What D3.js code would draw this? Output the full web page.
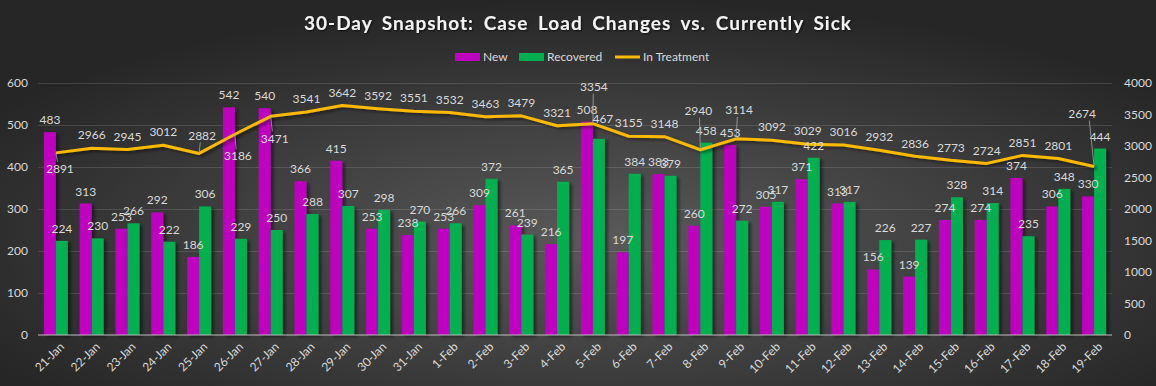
<!DOCTYPE html>
<html>
<head>
<meta charset="utf-8">
<script src="https://cdn.jsdelivr.net/npm/d3@7"></script>
<style>
    html, body { margin: 0; padding: 0; background: #2a2a2a; }
    svg { display: block; font-family: Lato, "Open Sans", sans-serif; }
</style>
</head>
<body>
<svg id="chart"></svg>
<script>
const dates = ["21-Jan", "22-Jan", "23-Jan", "24-Jan", "25-Jan", "26-Jan", "27-Jan", "28-Jan", "29-Jan", "30-Jan",
    "31-Jan", "1-Feb", "2-Feb", "3-Feb", "4-Feb", "5-Feb", "6-Feb", "7-Feb", "8-Feb", "9-Feb",
    "10-Feb", "11-Feb", "12-Feb", "13-Feb", "14-Feb", "15-Feb", "16-Feb", "17-Feb", "18-Feb", "19-Feb"];
const newCases = [483, 313, 253, 292, 186, 542, 540, 366, 415, 253, 238, 253, 309, 261, 216,
    508, 197, 383, 260, 453, 305, 371, 313, 156, 139, 274, 274, 374, 306, 330];
const recovered = [224, 230, 266, 222, 306, 229, 250, 288, 307, 298, 270, 266, 372, 239, 365,
    467, 384, 379, 458, 272, 317, 422, 317, 226, 227, 328, 314, 235, 348, 444];
const inTreatment = [2891, 2966, 2945, 3012, 2882, 3186, 3471, 3541, 3642, 3592, 3551, 3532, 3463, 3479, 3321,
    3354, 3155, 3148, 2940, 3114, 3092, 3029, 3016, 2932, 2836, 2773, 2724, 2851, 2801, 2674];
const leftTicks = [0, 100, 200, 300, 400, 500, 600];
const rightTicks = [0, 500, 1000, 1500, 2000, 2500, 3000, 3500, 4000];

const width = 1156, height = 386;
const margin = { top: 83, right: 44, bottom: 51, left: 38 };
const innerW = width - margin.left - margin.right;
const innerH = height - margin.top - margin.bottom;

const colors = { New: "#c000c0", Recovered: "#00b050", line: "#ffb900", text: "#d9d9d9" };
const labelSize = 12;

// labels that were dragged away from their point in the original (dx, dy from point)
const lineLabelMoves = { 0: [4, 16], 4: [3, -18], 5: [3, 22], 6: [4, 22], 15: [1, -37], 18: [-2, -39], 19: [3, -29], 29: [-12, -53] };
const barLabelMoves = { "Recovered-15": [4, -8] };

const svg = d3.select("#chart")
    .attr("width", width)
    .attr("height", height)
    .attr("viewBox", [0, 0, width, height]);

const defs = svg.append("defs");
const bg = defs.append("radialGradient")
    .attr("id", "bg")
    .attr("cx", "52%").attr("cy", "62%").attr("r", "62%");
bg.append("stop").attr("offset", "0%").attr("stop-color", "#5a5a5a");
bg.append("stop").attr("offset", "100%").attr("stop-color", "#262626");

const shadow = defs.append("filter").attr("id", "shadow")
    .attr("x", "-20%").attr("y", "-20%").attr("width", "160%").attr("height", "160%");
shadow.append("feDropShadow")
    .attr("dx", 3).attr("dy", 2).attr("stdDeviation", 1.5)
    .attr("flood-color", "#000").attr("flood-opacity", 0.45);

const titleShadow = defs.append("filter").attr("id", "tshadow");
titleShadow.append("feDropShadow")
    .attr("dx", 1).attr("dy", 1).attr("stdDeviation", 1)
    .attr("flood-color", "#000").attr("flood-opacity", 0.7);

svg.append("rect")
    .attr("width", width).attr("height", height)
    .attr("fill", "url(#bg)");

// Scales
const x0 = d3.scaleBand()
    .domain(dates)
    .range([0, innerW])
    .paddingInner(0.33)
    .paddingOuter(0.165);

const x1 = d3.scaleBand()
    .domain(["New", "Recovered"])
    .range([0, x0.bandwidth()]);

const yLeft = d3.scaleLinear().domain([0, 600]).range([innerH, 0]);
const yRight = d3.scaleLinear().domain([0, 4000]).range([innerH, 0]);

const g = svg.append("g")
    .attr("transform", `translate(${ margin.left },${ margin.top })`);

// grid
const grid = g.append("g")
    .call(d3.axisLeft(yLeft).tickValues(leftTicks).tickSize(-innerW).tickFormat(""));
grid.select(".domain").remove();
grid.selectAll(".tick line")
    .attr("stroke", "#ffffff")
    .attr("stroke-opacity", (d) => d === 0 ? 0 : 0.13);

// left axis labels
const leftAxis = g.append("g")
    .call(d3.axisLeft(yLeft).tickValues(leftTicks).tickSize(0).tickPadding(10));
leftAxis.select(".domain").remove();
leftAxis.selectAll("text")
    .attr("fill", colors.text)
    .attr("font-size", labelSize)
    .attr("font-family", "Lato, sans-serif");

// right axis labels
const rightAxis = g.append("g")
    .attr("transform", `translate(${ innerW },0)`)
    .call(d3.axisRight(yRight).tickValues(rightTicks).tickFormat(d3.format("d")).tickSize(0).tickPadding(12));
rightAxis.select(".domain").remove();
rightAxis.selectAll("text")
    .attr("fill", colors.text)
    .attr("font-size", labelSize)
    .attr("font-family", "Lato, sans-serif");

// x axis labels
const xAxis = g.append("g")
    .attr("transform", `translate(0,${ innerH })`)
    .call(d3.axisBottom(x0).tickSize(0).tickPadding(8));
xAxis.select(".domain").remove();
xAxis.selectAll("text")
    .attr("fill", colors.text)
    .attr("font-size", labelSize)
    .attr("font-family", "Lato, sans-serif")
    .attr("text-anchor", "end")
    .attr("dx", "-0.2em")
    .attr("dy", "0.6em")
    .attr("transform", "rotate(-45)");

// bars
const rows = dates.map((d, i) => ({ date: d, i, New: newCases[i], Recovered: recovered[i] }));
const barGroups = g.append("g")
    .attr("filter", "url(#shadow)")
    .selectAll("g")
    .data(rows)
    .join("g")
    .attr("transform", (d) => `translate(${ x0(d.date) },0)`);

barGroups.selectAll("rect")
    .data((d) => ["New", "Recovered"].map((k) => ({ key: k, value: d[k] })))
    .join("rect")
    .attr("x", (d) => x1(d.key))
    .attr("y", (d) => yLeft(d.value))
    .attr("width", x1.bandwidth())
    .attr("height", (d) => innerH - yLeft(d.value))
    .attr("fill", (d) => colors[d.key]);

// baseline
g.append("line")
    .attr("x1", 0).attr("x2", innerW)
    .attr("y1", innerH).attr("y2", innerH)
    .attr("stroke", "#bfbfbf")
    .attr("stroke-width", 1);

// line series
const cx = (i) => x0(dates[i]) + x0.bandwidth() / 2;
const line = d3.line()
    .x((d, i) => cx(i))
    .y((d) => yRight(d));

g.append("path")
    .datum(inTreatment)
    .attr("fill", "none")
    .attr("stroke", colors.line)
    .attr("stroke-width", 3)
    .attr("stroke-linejoin", "round")
    .attr("filter", "url(#shadow)")
    .attr("d", line);

// bar labels (outside the shadowed group)
const barLabels = g.append("g")
    .selectAll("g")
    .data(rows)
    .join("g")
    .attr("transform", (d) => `translate(${ x0(d.date) },0)`);

barLabels.selectAll("text")
    .data((d) => ["New", "Recovered"].map((k) => ({ key: k, value: d[k], move: barLabelMoves[`${ k }-${ d.i }`] ?? [0, 0] })))
    .join("text")
    .attr("x", (d) => x1(d.key) + x1.bandwidth() / 2 + d.move[0])
    .attr("y", (d) => yLeft(d.value) - 8 + d.move[1])
    .attr("text-anchor", "middle")
    .attr("fill", colors.text)
    .attr("font-size", labelSize)
    .text((d) => d.value);

// line labels
const lineLabels = g.append("g");
inTreatment.forEach((v, i) => {
    const px = cx(i), py = yRight(v);
    const move = lineLabelMoves[i];
    const [dx, dy] = move ?? [0, -13];
    if (move) {
        lineLabels.append("line")
            .attr("x1", px).attr("y1", py)
            .attr("x2", px + dx * 0.4).attr("y2", py + dy + (dy > 0 ? -7 : 7))
            .attr("stroke", "#a6a6a6")
            .attr("stroke-width", 0.8);
    }
    lineLabels.append("text")
        .attr("x", px + dx)
        .attr("y", py + dy)
        .attr("dy", "0.35em")
        .attr("text-anchor", "middle")
        .attr("fill", colors.text)
        .attr("font-size", labelSize)
        .text(v);
});

// title
svg.append("text")
    .attr("x", width / 2)
    .attr("y", 30)
    .attr("text-anchor", "middle")
    .attr("fill", "#f2f2f2")
    .attr("font-size", 19)
    .attr("font-weight", "bold")
    .attr("letter-spacing", 1)
    .attr("word-spacing", 4)
    .attr("filter", "url(#tshadow)")
    .text("30-Day Snapshot: Case Load Changes vs. Currently Sick");

// legend
const legendItems = [
    { name: "New", color: colors.New, type: "rect" },
    { name: "Recovered", color: colors.Recovered, type: "rect" },
    { name: "In Treatment", color: colors.line, type: "line" }
];
const legendX = [455, 519, 615];
const legend = svg.append("g").attr("transform", "translate(0,57)");
legendItems.forEach((item, i) => {
    const lg = legend.append("g").attr("transform", `translate(${ legendX[i] },0)`);
    if (item.type === "rect") {
        lg.append("rect")
            .attr("x", 0).attr("y", -4)
            .attr("width", 25).attr("height", 8)
            .attr("fill", item.color);
    } else {
        lg.append("line")
            .attr("x1", 0).attr("x2", 25)
            .attr("stroke", item.color)
            .attr("stroke-width", 3);
    }
    lg.append("text")
        .attr("x", 28)
        .attr("dy", "0.35em")
        .attr("fill", colors.text)
        .attr("font-size", 12)
        .text(item.name);
});
</script>
</body>
</html>
